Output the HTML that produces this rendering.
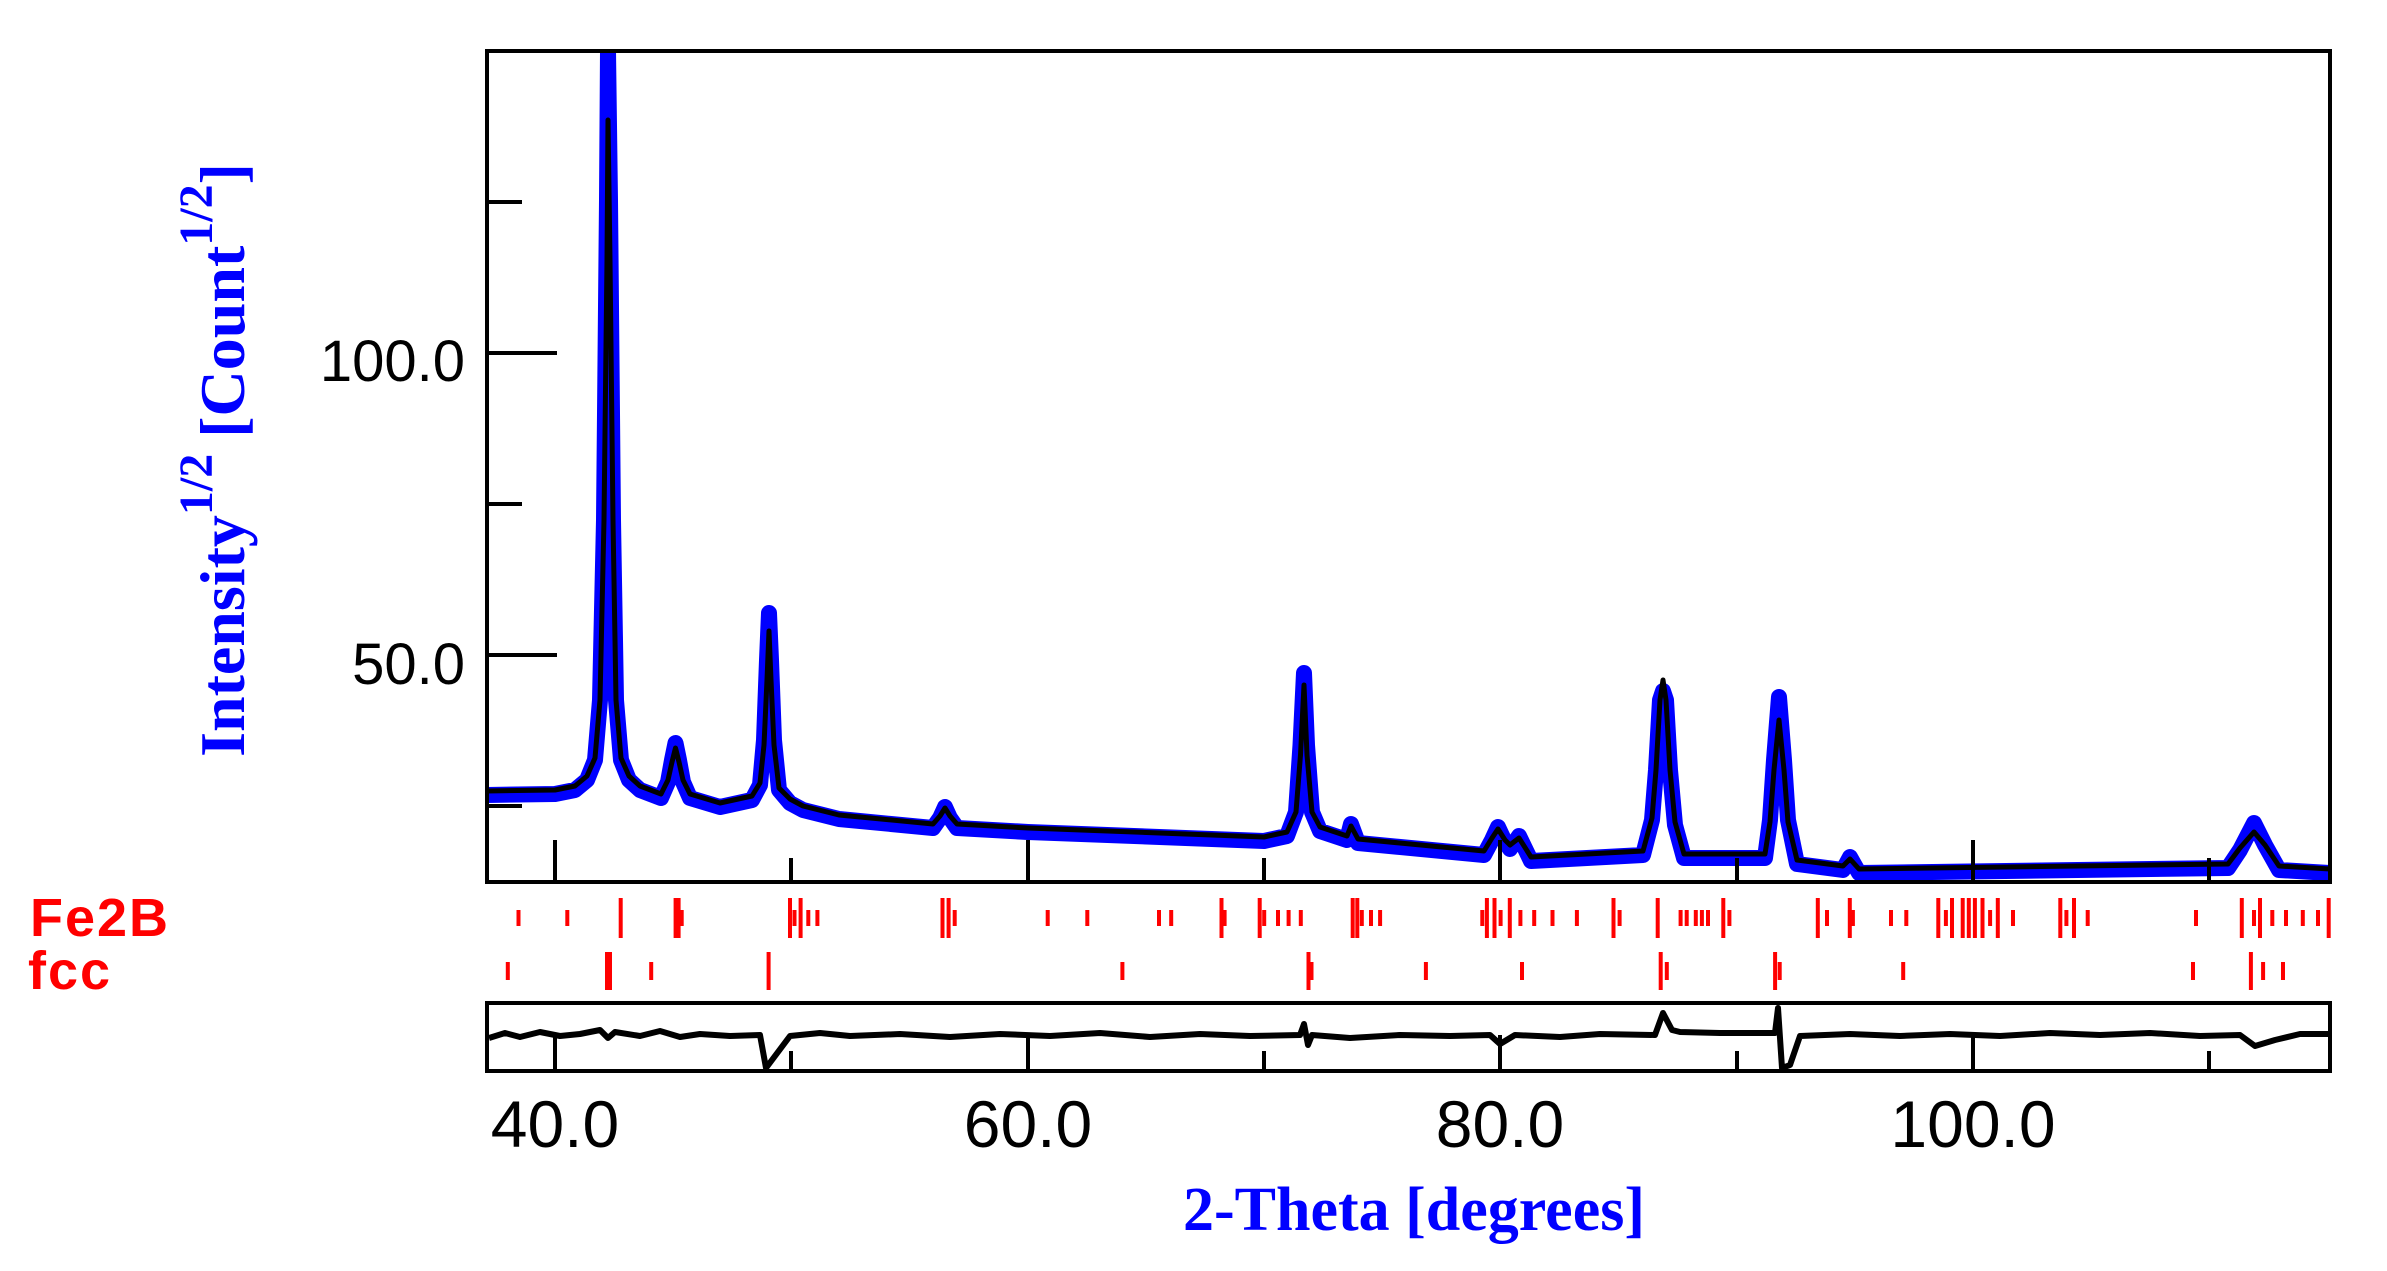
<!DOCTYPE html>
<html><head><meta charset="utf-8">
<style>
html,body{margin:0;padding:0;background:#fff;}
svg{display:block;}
</style></head>
<body>
<svg width="2387" height="1271" xmlns="http://www.w3.org/2000/svg">
<rect width="2387" height="1271" fill="#fff"/>
<clipPath id="c"><rect x="487" y="51" width="1843" height="831"/></clipPath>
<g clip-path="url(#c)" fill="none" stroke-linejoin="round">
<polyline stroke="#0000ff" stroke-width="16" points="485,795 555,794 575,790 587,780 595,760 600,700 604,520 607,200 608,51 610,200 613,520 616,700 621,760 629,780 640,790 661,798 668,782 672,760 675.5,743 679,760 683,782 690,798 720,807 752,800 760,785 764,740 767,660 769,613 771,660 774,740 779,790 790,803 803,810 839,819 933,828 940,818 945,807 950,818 957,828 1028,832 1264,841 1287,836 1296,812 1300.5,745 1304,673 1307,745 1312,812 1320,831 1347,840 1351,824 1358,843 1484,855 1492,840 1498,827 1505,842 1510,849 1519,836 1531,861 1643,855 1652,820 1656,770 1660,700 1663,691 1666,700 1670,770 1675,825 1684,858 1765,858 1770,820 1774,760 1779,697 1784,760 1788,820 1797,864 1843,870 1850,857 1859,873 2228,868 2240,850 2254,823 2265,845 2279,870 2330,873"/>
<polyline stroke="#000" stroke-width="5" points="485,791 555,790 575,786 587,776 595,758 600,700 604,520 607,260 608,120 610,260 613,520 616,700 621,758 629,776 640,786 661,794 668,780 672,762 675.5,748 679,762 683,780 690,794 720,803 752,796 760,783 764,745 767,680 769,631 771,680 774,745 779,788 790,799 803,806 839,815 933,824 940,816 945,808 950,816 957,824 1028,828 1264,837 1287,832 1296,812 1300.5,755 1304,685 1307,755 1312,812 1320,827 1347,836 1351,826 1358,839 1484,851 1492,838 1498,829 1505,840 1510,845 1519,838 1531,857 1643,851 1652,818 1656,770 1660,700 1663,680 1666,700 1670,770 1675,822 1684,854 1765,854 1770,822 1774,770 1779,720 1784,770 1788,822 1797,860 1843,866 1850,859 1859,869 2228,864 2240,848 2254,832 2265,845 2279,866 2330,869"/>
</g>
<polyline fill="none" stroke="#000" stroke-width="6" stroke-linejoin="round" points="489,1038 505,1033 520,1037 540,1032 560,1036 580,1034 600,1030 608,1038 615,1032 640,1036 660,1031 680,1037 700,1034 730,1036 760,1035 766,1068 772,1060 790,1036 820,1033 850,1036 900,1034 950,1037 1000,1034 1050,1036 1100,1033 1150,1037 1200,1034 1250,1036 1300,1035 1304,1024 1308,1045 1312,1035 1350,1038 1400,1035 1450,1036 1490,1035 1500,1044 1515,1035 1560,1037 1600,1034 1655,1035 1663,1013 1672,1030 1680,1032 1720,1033 1775,1033 1778,1008 1782,1068 1790,1065 1800,1036 1850,1034 1900,1036 1950,1034 2000,1036 2050,1033 2100,1035 2150,1033 2200,1036 2240,1035 2255,1046 2275,1040 2300,1034 2328,1034"/>
<rect x="487" y="51" width="1843" height="831" fill="none" stroke="#000" stroke-width="4"/>
<rect x="487" y="1003" width="1843" height="68" fill="none" stroke="#000" stroke-width="4"/>
<path stroke="#000" stroke-width="4" fill="none" d="M487,353H557M487,655H557M487,202H522M487,504H522M487,806H522
M555,882V840M791,882V858M1028,882V840M1264,882V858M1500,882V840M1737,882V858M1973,882V840M2209,882V858
M555,1071V1035M791,1071V1051M1028,1071V1035M1264,1071V1051M1500,1071V1035M1737,1071V1051M1973,1071V1035M2209,1071V1051"/>
<g font-family="Liberation Sans, sans-serif" font-size="58" fill="#000" text-anchor="end">
<text x="465" y="381">100.0</text>
<text x="465" y="684">50.0</text>
</g>
<g font-family="Liberation Sans, sans-serif" font-size="66" fill="#000" text-anchor="middle">
<text x="555" y="1147">40.0</text>
<text x="1028" y="1147">60.0</text>
<text x="1500" y="1147">80.0</text>
<text x="1973" y="1147">100.0</text>
</g>
<text x="1414" y="1230" font-family="Liberation Serif, serif" font-weight="bold" font-size="62" fill="#0000ff" text-anchor="middle">2-Theta [degrees]</text>
<text transform="translate(244,460) rotate(-90)" font-family="Liberation Serif, serif" font-weight="bold" font-size="64" fill="#0000ff" text-anchor="middle">Intensity<tspan dy="-32" font-size="48">1/2</tspan><tspan dy="32"> [Count</tspan><tspan dy="-32" font-size="48">1/2</tspan><tspan dy="32">]</tspan></text>
<g font-family="Liberation Sans, sans-serif" font-weight="bold" font-size="54" fill="#ff0000">
<text x="30" y="936" letter-spacing="2">Fe2B</text>
<text x="28" y="989" letter-spacing="2">fcc</text>
</g>
<path stroke="#ff0000" stroke-width="4" fill="none" d="
M518.5,910V926M567.3,910V926M620.7,898V938M675.6,898V938M678.6,898V938M681.7,910V926M790,898V938M794.5,910V926M800.6,898V938M808.3,910V926M817.4,910V926
M942.5,898V938M948.6,898V938M954.7,910V926M1047.7,910V926M1087.3,910V926M1159,910V926M1171.2,910V926M1221.5,898V938M1224.6,910V926M1259.7,898V938M1264.2,910V926M1278,910V926M1288.6,910V926M1300.8,910V926
M1352.7,898V938M1357.3,898V938M1361.8,910V926M1371,910V926M1380.1,910V926M1482.3,910V926M1486.9,898V938M1494.5,898V938M1500.6,910V926M1509.8,898V938M1520.4,910V926M1534.2,910V926M1552.5,910V926M1576.9,910V926
M1613.5,898V938M1619.6,910V926M1657.7,898V938M1680.6,910V926M1686.7,910V926M1695.8,910V926M1701.9,910V926M1708,910V926M1723.3,898V938M1729.4,910V926M1817.8,898V938M1827,910V926M1849.8,898V938M1852.9,910V926
M1891,910V926M1906.3,910V926M1938.3,898V938M1945.9,910V926M1952,898V938M1962.7,898V938M1968.8,898V938M1974.9,898V938M1982.5,898V938M1990.1,910V926M1997.8,898V938M2013,910V926M2060.3,898V938M2066.4,910V926M2074,898V938M2087.7,910V926
M2196,910V926M2241.8,898V938M2254,910V926M2260,898V938M2272.3,910V926M2286,910V926M2302.8,910V926M2318,910V926M2328.7,898V938
M507.8,962V980M607,952V990M610,952V990M651.2,962V980M768.6,952V990M1122.4,962V980M1308.5,952V990M1311.5,962V980M1425.9,962V980M1522,962V980
M1660.7,952V990M1666.8,962V980M1775.1,952V990M1779.7,962V980M1903.2,962V980M2193,962V980M2250.9,952V990M2263.1,962V980M2283,962V980"/>
</svg>
</body></html>
